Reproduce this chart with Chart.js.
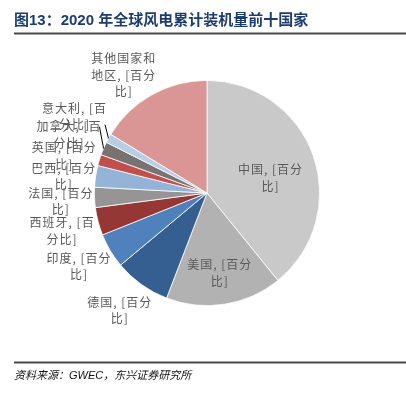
<!DOCTYPE html>
<html>
<head>
<meta charset="utf-8">
<script src="https://cdn.jsdelivr.net/npm/chart.js@4"></script>
<style>
    html, body { margin: 0; padding: 0; background: #fff; }
    #wrap { width: 406px; height: 398px; }
</style>
</head>
<body>
<div id="wrap"><canvas id="myChart" width="406" height="398"></canvas></div>
<script>
// data (share of global cumulative capacity, %)
let countries = ['中国', '美国', '德国', '印度', '西班牙', '法国', '巴西', '英国', '加拿大', '意大利', '其他国家和地区']
let shares = [39.2, 16.7, 8.1, 5.0, 4.0, 2.9, 3.1, 1.6, 1.9, 1.3, 16.3]

let sliceColors = ['#c9c9c9', '#b2b2b2', '#365f91', '#4f81bd', '#953735', '#959595',
    '#95b3d7', '#c0504d', '#787372', '#b9cde5', '#d99694']

// label placement: distance from centre (fraction of radius) and a small turn in degrees
let labelDist = [0.58, 0.72, 1.3, 1.31, 1.33, 1.3, 1.28, 1.31, 1.33, 1.36, 1.28]
let labelTurn = [6, 0, 1, 1, 0, -1, -2, -2.5, -0.5, 1, -6]
let leaderLines = [false, false, false, false, false, false, false, false, true, true, false]

let titleText = '图13：2020 年全球风电累计装机量前十国家'
let sourceText = '资料来源：GWEC，东兴证券研究所'

let labelFont = '12px "Noto Sans CJK SC"'
let maxLabelWidth = 70

function wrapLabel(ctx, text) {
    let lines = []
    let line = ''
    for (let ch of text) {
        if (ctx.measureText(line + ch).width > maxLabelWidth && line) {
            lines.push(line)
            line = ch === ' ' ? '' : ch
        } else {
            line += ch
        }
    }
    if (line) lines.push(line)
    return lines
}

// title, rules and the source line
let frame = {
    id: 'frame',
    beforeDraw(chart) {
        let ctx = chart.ctx
        ctx.save()
        ctx.fillStyle = '#fff'
        ctx.fillRect(0, 0, chart.width, chart.height)
        ctx.fillStyle = '#1d3d70'
        ctx.font = 'bold 15px "Liberation Sans", "Noto Sans CJK SC"'
        ctx.textBaseline = 'middle'
        ctx.fillText(titleText, 14, 21)
        ctx.strokeStyle = '#4a4a4a'
        ctx.lineWidth = 2
        ctx.beginPath()
        ctx.moveTo(14, 33.5)
        ctx.lineTo(406, 33.5)
        ctx.moveTo(14, 362.5)
        ctx.lineTo(406, 362.5)
        ctx.stroke()
        ctx.fillStyle = '#111'
        ctx.font = 'italic 11px "Liberation Sans", "Noto Sans CJK SC"'
        ctx.fillText(sourceText, 14, 376)
        ctx.restore()
    }
}

// Excel-like data labels "name, [百分比]"
let sliceLabels = {
    id: 'sliceLabels',
    afterDatasetsDraw(chart) {
        let ctx = chart.ctx
        let arcs = chart.getDatasetMeta(0).data
        ctx.save()
        ctx.font = labelFont
        ctx.letterSpacing = '1px'
        ctx.textAlign = 'center'
        ctx.textBaseline = 'middle'
        arcs.forEach((arc, i) => {
            let p = arc.getProps(['x', 'y', 'startAngle', 'endAngle', 'outerRadius'], true)
            let mid = (p.startAngle + p.endAngle) / 2
            let a = mid + labelTurn[i] * Math.PI / 180
            let lx = p.x + Math.cos(a) * p.outerRadius * labelDist[i]
            let ly = p.y + Math.sin(a) * p.outerRadius * labelDist[i]
            let lines = wrapLabel(ctx, countries[i] + ', [百分比]')
            let lh = 16.5
            let top = ly - (lines.length - 1) * lh / 2
            if (leaderLines[i]) {
                let w = Math.max(...lines.map(l => ctx.measureText(l).width))
                ctx.strokeStyle = '#000'
                ctx.lineWidth = 1
                ctx.beginPath()
                ctx.moveTo(lx + w / 2 - 2, top + (i === 9 ? lh : 0))
                ctx.lineTo(p.x + Math.cos(mid) * p.outerRadius, p.y + Math.sin(mid) * p.outerRadius)
                ctx.stroke()
            }
            ctx.fillStyle = '#595959'
            lines.forEach((l, j) => ctx.fillText(l, lx, top + j * lh))
        })
        ctx.restore()
    }
}

let ctx = document.getElementById('myChart').getContext('2d')
new Chart(ctx, {
    type: 'pie',
    data: {
        labels: countries,
        datasets: [{
            data: shares,
            backgroundColor: sliceColors,
            borderColor: '#fff',
            borderWidth: 0.8
        }]
    },
    options: {
        responsive: false,
        animation: false,
        layout: { padding: { top: 80, bottom: 92, left: 94, right: 86 } },
        plugins: {
            legend: { display: false },
            tooltip: { enabled: false }
        }
    },
    plugins: [frame, sliceLabels]
})
</script>
</body>
</html>
